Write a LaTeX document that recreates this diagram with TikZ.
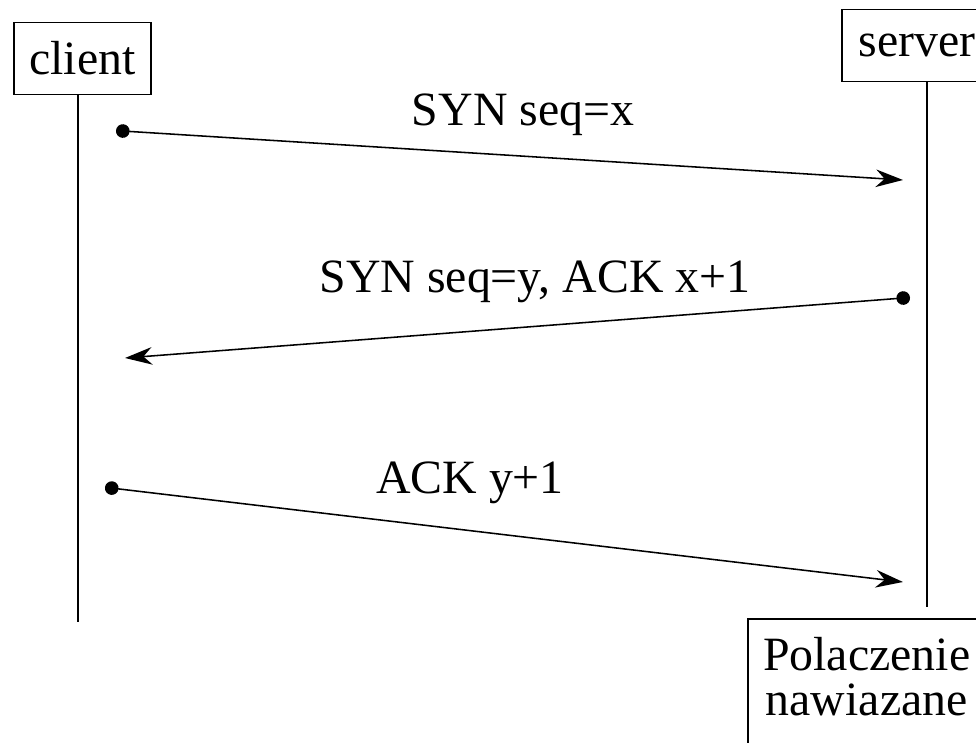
\documentclass[tikz,border=0pt]{standalone}
\usepackage{fontspec}
\setmainfont{Liberation Serif}
\usepackage{tikz}
\usetikzlibrary{positioning, arrows.meta}

\begin{document}
\begin{tikzpicture}[x=0.025cm, y=-0.025cm,
  actor/.style={draw, line width=1.4pt, minimum height=1.8cm, inner xsep=0.38cm,
                font=\fontsize{34pt}{32pt}\selectfont},
  lifeline/.style={line width=1.4pt},
  msg/.style={line width=1.1pt, {Circle[length=0.34cm]}-{Stealth[length=0.68cm,width=0.44cm,inset=0.22cm]}},
  msglabel/.style={anchor=base, font=\fontsize{34pt}{32pt}\selectfont}
]
\clip (0,0) rectangle (976,743);
\node[actor] (client) at (82.5,58.5) {client};
\node[actor, anchor=west, inner xsep=0.42cm] (server) at (841,45.5) {server};
\node[actor, anchor=north west, align=center, inner ysep=0.45cm, text depth=1cm] (done) at (747,618) {Polaczenie\\nawiazane};
% lifelines
\coordinate (cend) at (78,622);
\coordinate (send) at (927,607);
\draw[lifeline] (client.south -| cend) -- (cend);
\draw[lifeline] (server.south -| send) -- (send);
% handshake
\coordinate (c1) at (116,130.6);
\coordinate (s1) at (903,180);
\coordinate (s2) at (910,297.5);
\coordinate (c2) at (125,358);
\coordinate (c3) at (105,487.3);
\coordinate (s3) at (903,582);
\draw[msg] (c1) -- (s1);
\draw[msg] (s2) -- (c2);
\draw[msg] (c3) -- (s3);
\node[msglabel] (l1) at (523,125) {SYN seq=x};
\node[msglabel] (l2) at (535,292) {SYN seq=y, ACK x+1};
\node[msglabel] (l3) at (470,493) {ACK y+1};
\end{tikzpicture}
\end{document}
